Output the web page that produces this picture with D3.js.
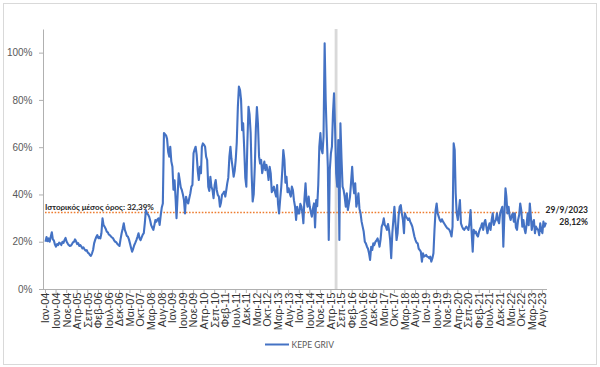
<!DOCTYPE html>
<html>
<head>
<meta charset="utf-8">
<script src="https://cdn.jsdelivr.net/npm/d3@7"></script>
<style>
body { margin: 0; background: #fff; }
svg { font-family: Lato, "Liberation Sans", sans-serif; }
</style>
</head>
<body>
<svg id="chart"></svg>
<script>
// KEPE GRIV, two readings per month (first / second half), in %
var v2004 = [20.0,22.0, 20.2,21.4, 20.0,22.0, 24.0,21.0, 20.5,18.8, 17.9,19.0, 18.6,19.6, 19.3,18.6, 20.0,19.5, 20.7,21.6, 20.0,19.2, 18.6,18.2];
var v2005 = [18.4,19.0, 19.8,20.0, 21.0,20.2, 19.0,19.4, 18.2,18.6, 17.9,17.2, 17.6,16.8, 16.2,16.5, 15.4,15.1, 14.4,14.0, 15.1,16.5, 19.3,20.8];
var v2006 = [22.0,22.8, 21.5,22.0, 21.4,23.6, 29.9,27.0, 26.4,25.5, 24.3,24.0, 23.0,22.8, 22.2,21.8, 21.4,20.5, 20.0,19.8, 19.0,18.6, 18.2,21.0];
var v2007 = [23.6,25.5, 27.8,25.0, 24.0,22.5, 22.2,21.0, 19.3,17.5, 15.8,17.0, 18.5,19.5, 20.7,22.0, 23.6,21.4, 20.7,21.8, 23.0,23.6, 28.0,33.4];
var v2008 = [32.0,31.5, 30.6,29.0, 27.0,26.0, 25.0,27.0, 29.2,28.5, 29.5,29.9, 27.1,31.0, 34.5,36.2, 66.0,65.5, 65.0,63.5, 58.0,56.0, 60.2,54.0];
var v2009 = [51.7,42.0, 46.0,38.0, 30.0,39.0, 48.9,46.0, 43.0,41.9, 40.0,37.6, 32.0,39.0, 37.0,36.2, 38.5,40.5, 43.3,44.0, 57.4,59.0, 60.2,56.7];
var v2010 = [50.0,46.1, 51.7,49.0, 60.2,61.6, 61.0,60.2, 56.0,54.6, 43.3,41.5, 47.5,43.3, 41.9,38.4, 44.0,46.1, 41.9,39.8, 39.1,34.8, 36.5,39.8];
var v2011 = [40.5,41.2, 39.1,42.0, 44.7,47.0, 56.0,60.2, 55.0,51.7, 47.5,50.0, 54.6,62.0, 77.1,85.6, 84.2,80.0, 67.2,70.1, 58.8,47.0, 43.3,62.0];
var v2012 = [77.1,74.0, 66.0,48.0, 37.0,40.0, 52.0,68.0, 77.0,70.0, 56.0,53.1, 54.6,49.0, 51.7,53.9, 50.3,52.5, 50.0,46.1, 51.7,48.9, 41.0,42.0];
var v2013 = [43.3,41.0, 39.1,44.0, 36.0,32.0, 38.0,43.0, 50.0,58.8, 54.6,45.0, 47.5,41.0, 42.6,40.5, 39.1,43.3, 41.9,37.6, 34.8,29.2, 34.8,32.0];
var v2014 = [32.0,36.0, 34.8,32.0, 27.8,38.0, 44.7,37.0, 34.8,39.1, 34.8,32.5, 30.6,34.0, 36.2,26.0, 37.6,35.0, 44.0,60.0, 66.0,59.0, 57.4,64.4];
var v2015 = [104.0,80.0, 64.4,51.7, 20.7,50.3, 57.4,60.2, 74.3,82.8, 67.2,48.9, 43.3,63.0, 20.7,70.1, 55.0,43.3, 41.9,39.1, 34.8,40.5, 33.4,36.0];
var v2016 = [39.1,45.0, 51.7,44.0, 40.5,44.7, 34.8,37.0, 40.5,34.0, 32.0,28.5, 26.4,24.3, 20.0,19.3, 17.9,17.0, 15.1,12.3, 17.9,16.5, 19.3,18.6];
var v2017 = [20.0,20.5, 21.4,19.8, 17.9,21.0, 26.4,27.5, 29.9,27.0, 26.4,25.0, 27.5,25.0, 20.7,13.0, 23.6,29.2, 34.8,28.0, 20.7,23.6, 31.0,34.8];
var v2018 = [35.5,32.0, 29.2,23.6, 32.0,30.6, 30.0,29.2, 29.9,28.5, 27.5,26.4, 24.3,22.2, 20.7,19.6, 19.3,17.0, 16.5,15.8, 11.6,15.1, 13.7,14.0];
var v2019 = [14.4,13.7, 13.5,13.0, 13.7,11.6, 13.0,15.1, 25.0,33.0, 36.2,32.0, 30.6,29.2, 28.5,29.5, 28.5,27.8, 27.1,26.4, 25.7,25.5, 25.0,24.0];
var v2020 = [22.2,26.4, 61.6,58.8, 40.5,32.0, 29.2,33.4, 37.6,27.8, 26.4,25.5, 25.0,25.7, 26.4,25.7, 25.0,28.0, 33.4,24.3, 15.8,25.0, 23.6,24.3];
var v2021 = [22.8,22.2, 24.3,25.5, 26.4,27.8, 25.0,28.0, 29.2,26.4, 23.6,26.0, 27.8,25.0, 29.2,32.0, 27.1,28.5, 29.2,32.0, 29.0,27.8, 32.0,33.4];
var v2022 = [34.8,17.9, 32.0,42.6, 39.1,32.0, 34.8,31.0, 29.2,31.0, 32.0,28.5, 32.0,26.0, 25.0,29.2, 31.3,36.2, 33.4,26.4, 29.2,25.5, 23.6,27.1];
var v2023 = [32.0,27.0, 36.2,30.6, 25.0,28.0, 29.2,23.6, 26.4,25.5, 25.0,22.8, 27.8,25.0, 23.6,28.5, 26.4];

var years = [2004,2005,2006,2007,2008,2009,2010,2011,2012,2013,2014,2015,2016,2017,2018,2019,2020,2021,2022,2023];
var yearValues = [v2004,v2005,v2006,v2007,v2008,v2009,v2010,v2011,v2012,v2013,v2014,v2015,v2016,v2017,v2018,v2019,v2020,v2021,v2022,v2023];

var firstDate = "2004-01-01";
var lastDate = "2023-09-29";
var lastValue = 28.12;
var average = 32.39;
var closure = ["2015-06-01", "2015-07-12"];   // grey band, market closed

var yTicks = [0, 20, 40, 60, 80, 100];
var monthNames = ["Ιαν","Φεβ","Μαρ","Απρ","Μαι","Ιουν","Ιουλ","Αυγ","Σεπ","Οκτ","Νοε","Δεκ"];
var xTickLabels = ["Ιαν-04","Ιουν-04","Νοε-04","Απρ-05","Σεπ-05","Φεβ-06","Ιουλ-06","Δεκ-06","Μαι-07","Οκτ-07",
    "Μαρ-08","Αυγ-08","Ιαν-09","Ιουν-09","Νοε-09","Απρ-10","Σεπ-10","Φεβ-11","Ιουλ-11","Δεκ-11",
    "Μαι-12","Οκτ-12","Μαρ-13","Αυγ-13","Ιαν-14","Ιουν-14","Νοε-14","Απρ-15","Σεπ-15","Φεβ-16",
    "Ιουλ-16","Δεκ-16","Μαι-17","Οκτ-17","Μαρ-18","Αυγ-18","Ιαν-19","Ιουν-19","Νοε-19","Απρ-20",
    "Σεπ-20","Φεβ-21","Ιουλ-21","Δεκ-21","Μαι-22","Οκτ-22","Μαρ-23","Αυγ-23"];

var W = 600, H = 367;
var plot = {left: 43, top: 29, bottom: 289, right: 547};
var parse = d3.timeParse("%Y-%m-%d");

var svg = d3.select("#chart")
    .attr("width", W)
    .attr("height", H);

svg.append("rect")
    .attr("x", 3.5).attr("y", 3.5)
    .attr("width", W - 7).attr("height", H - 6)
    .attr("fill", "#fff")
    .attr("stroke", "#d9d9d9");

var series = [];
years.forEach(function(yr, k) {
    yearValues[k].forEach(function(v, i) {
        series.push({date: new Date(yr, Math.floor(i / 2), i % 2 ? 23 : 8), value: v});
    });
});
series.push({date: parse(lastDate), value: lastValue});

var x = d3.scaleTime()
    .domain([parse(firstDate), parse(lastDate)])
    .range([45, 546]);
var y = d3.scaleLinear()
    .domain([0, 110])
    .range([plot.bottom, plot.top]);

var tickDates = xTickLabels.map(function(s) {
    var p = s.split("-");
    return new Date(2000 + (+p[1]), monthNames.indexOf(p[0]), 1);
});

// market closure band
svg.append("rect")
    .attr("x", x(parse(closure[0])))
    .attr("y", plot.top)
    .attr("width", x(parse(closure[1])) - x(parse(closure[0])))
    .attr("height", plot.bottom - plot.top)
    .attr("fill", "#d9d9d9");

// y axis
var yAxis = svg.append("g")
    .attr("transform", "translate(" + plot.left + ",0)")
    .call(d3.axisLeft(y)
        .tickValues(yTicks)
        .tickSize(4)
        .tickSizeOuter(0)
        .tickPadding(6.5)
        .tickFormat(function(d) { return d + "%"; }));
yAxis.select(".domain").attr("stroke", "#b0b0b0");
yAxis.selectAll(".tick line").attr("stroke", "#b0b0b0");
yAxis.selectAll("text")
    .attr("fill", "#595959")
    .style("font-size", "10px");

// x axis
var xAxis = svg.append("g")
    .attr("transform", "translate(0," + plot.bottom + ")")
    .call(d3.axisBottom(x)
        .tickValues(tickDates)
        .tickSize(4)
        .tickSizeOuter(0)
        .tickFormat(function(d, i) { return xTickLabels[i]; }));
xAxis.select(".domain").remove();
xAxis.append("line")
    .attr("x1", plot.left).attr("x2", plot.right)
    .attr("y1", 0.5).attr("y2", 0.5)
    .attr("stroke", "#b0b0b0");
xAxis.selectAll(".tick line").attr("stroke", "#b0b0b0");
xAxis.selectAll("text")
    .attr("transform", "rotate(-90)")
    .attr("text-anchor", "end")
    .attr("x", -3.5)
    .attr("y", 0)
    .attr("dy", "0.35em")
    .attr("fill", "#333")
    .style("font-size", "11px");

// historical average
svg.append("line")
    .attr("x1", x(parse(firstDate)))
    .attr("x2", x(parse(lastDate)) - 5)
    .attr("y1", y(average))
    .attr("y2", y(average))
    .attr("stroke", "#ED7D31")
    .attr("stroke-width", 1.6)
    .attr("stroke-dasharray", "1.6,1.6");

// series line
svg.append("path")
    .datum(series)
    .attr("fill", "none")
    .attr("stroke", "#4472C4")
    .attr("stroke-width", 2.1)
    .attr("stroke-linejoin", "round")
    .attr("d", d3.line()
        .x(function(d) { return x(d.date); })
        .y(function(d) { return y(d.value); }));

svg.append("text")
    .attr("x", 45)
    .attr("y", 210)
    .attr("fill", "#262626")
    .style("font-size", "8px")
    .style("font-weight", "bold")
    .text("Ιστορικός μέσος όρος: " + d3.format(".2f")(average).replace(".", ",") + "%");

svg.append("text")
    .attr("x", 588)
    .attr("y", 213)
    .attr("text-anchor", "end")
    .attr("fill", "#262626")
    .style("font-size", "8.5px")
    .style("font-weight", "bold")
    .text("29/9/2023");
svg.append("text")
    .attr("x", 588)
    .attr("y", 224.5)
    .attr("text-anchor", "end")
    .attr("fill", "#262626")
    .style("font-size", "8.5px")
    .style("font-weight", "bold")
    .text(d3.format(".2f")(lastValue).replace(".", ",") + "%");

// legend
svg.append("line")
    .attr("x1", 265).attr("x2", 289)
    .attr("y1", 344.5).attr("y2", 344.5)
    .attr("stroke", "#4472C4")
    .attr("stroke-width", 2);
svg.append("text")
    .attr("x", 291.5)
    .attr("y", 347.5)
    .attr("fill", "#595959")
    .style("font-size", "8.5px")
    .text("KEPE GRIV");
</script>
</body>
</html>
